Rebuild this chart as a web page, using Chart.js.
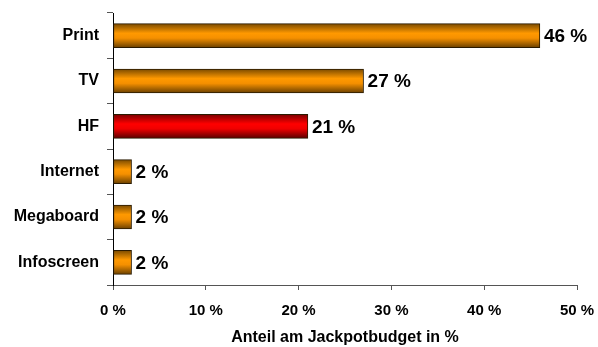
<!DOCTYPE html>
<html lang="de">

<head>
  <meta charset="UTF-8">
  <title>Anteil am Jackpotbudget</title>
  <script src="https://cdn.jsdelivr.net/npm/chart.js"></script>
  <style>
    body { margin: 0; background: #fff; }
    #box { width: 598px; height: 347px; }
  </style>
</head>

<body>
  <div id="box">
    <canvas id="gf1" width="598" height="347"></canvas>
  </div>

  <script>
    // Medien und ihr Anteil in %
    const medien = ['Print', 'TV', 'HF', 'Internet', 'Megaboard', 'Infoscreen']
    const anteile = [46, 27, 21, 2, 2, 2]
    const achseMax = 50
    const achseSchritt = 10
    const hervorgehoben = 'HF'

    const schrift = 'Liberation Sans, Arial, sans-serif'

    function balkenFarbe(c) {
      const y = c.chart.scales.y
      const mitte = y ? y.getPixelForValue(c.dataIndex) : NaN
      const rot = medien[c.dataIndex] === hervorgehoben
      if (!isFinite(mitte)) return rot ? '#ff0000' : '#ff9900'
      const g = c.chart.ctx.createLinearGradient(0, mitte - 12, 0, mitte + 12)
      if (rot) {
        g.addColorStop(0, '#7a0000')
        g.addColorStop(0.4, '#ff0000')
        g.addColorStop(0.6, '#f00000')
        g.addColorStop(1, '#5a0000')
      } else {
        g.addColorStop(0, '#7a4a00')
        g.addColorStop(0.4, '#ff9900')
        g.addColorStop(0.6, '#f59000')
        g.addColorStop(1, '#6a4000')
      }
      return g
    }

    // Wert hinter jeden Balken schreiben
    const wertLabels = {
      id: 'wertLabels',
      afterDatasetsDraw(chart) {
        const ctx = chart.ctx
        const meta = chart.getDatasetMeta(0)
        ctx.save()
        ctx.font = 'bold 19px ' + schrift
        ctx.fillStyle = '#000'
        ctx.textBaseline = 'middle'
        ctx.textAlign = 'left'
        meta.data.forEach(function (bar, i) {
          ctx.fillText(anteile[i] + ' %', bar.x + 4, bar.y + 1)
        })
        ctx.restore()
      }
    }

    const ctx = document.getElementById('gf1').getContext('2d')
    new Chart(ctx, {
      type: 'bar',
      data: {
        labels: medien,
        datasets: [{
          data: anteile,
          backgroundColor: balkenFarbe,
          borderColor: '#2a1a00',
          borderWidth: 1,
          borderSkipped: false,
          barThickness: 24
        }]
      },
      options: {
        indexAxis: 'y',
        responsive: false,
        animation: false,
        layout: { padding: { top: 13, right: 21, bottom: 0, left: 0 } },
        plugins: {
          legend: { display: false },
          tooltip: { enabled: false }
        },
        scales: {
          x: {
            min: 0,
            max: achseMax,
            afterFit: function (s) {
              s.height = 62
              s.paddingLeft = 0
              s.paddingRight = 0
            },
            ticks: {
              stepSize: achseSchritt,
              padding: 12,
              color: '#000',
              font: { size: 15, weight: 'bold', family: schrift },
              callback: function (v) { return v + ' %' }
            },
            grid: { drawOnChartArea: false, tickLength: 5, color: '#555' },
            border: { color: '#555', width: 1 },
            title: {
              display: true,
              text: 'Anteil am Jackpotbudget in %',
              color: '#000',
              padding: { top: 0, bottom: 0 },
              font: { size: 16, weight: 'bold', family: schrift }
            }
          },
          y: {
            afterFit: function (s) {
              s.width = 113
              s.paddingTop = 0
              s.paddingBottom = 0
            },
            ticks: {
              padding: 8,
              color: '#000',
              font: { size: 16, weight: 'bold', family: schrift }
            },
            grid: { drawOnChartArea: false, tickLength: 6, offset: true, color: '#555' },
            border: { color: '#000', width: 1 }
          }
        }
      },
      plugins: [wertLabels]
    })
  </script>
</body>

</html>
